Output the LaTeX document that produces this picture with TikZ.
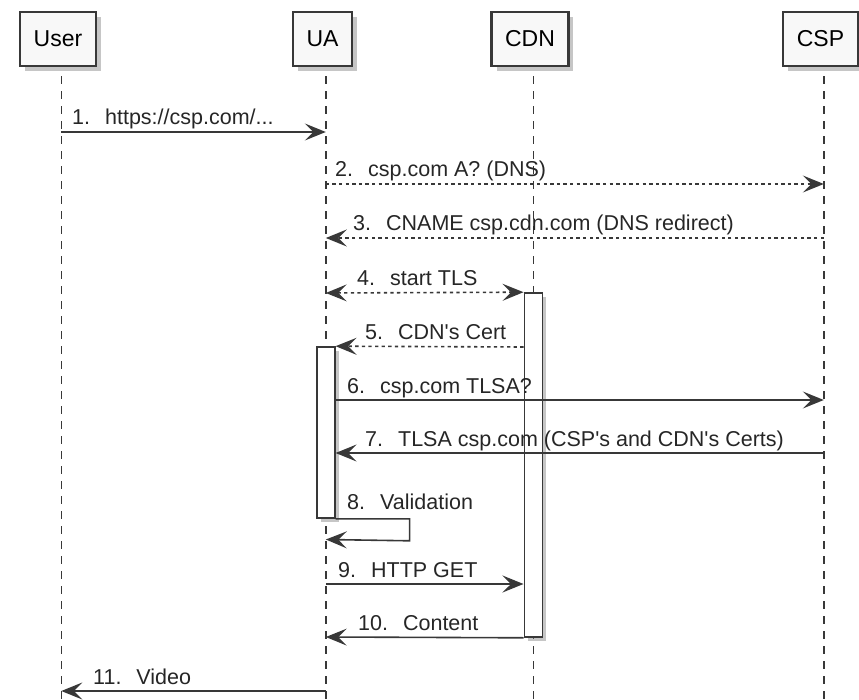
\documentclass[tikz,border=0pt]{standalone}
\usepackage{fontspec}
\newfontfamily\pfont{Liberation Sans}
\usetikzlibrary{arrows.meta,shadows}
\definecolor{ln}{HTML}{383838}
\definecolor{boxfill}{HTML}{F8F8F8}
\newcommand{\gp}{\hspace{15pt}}
\tikzset{
  part/.style={draw=ln, line width=2.2pt, fill=boxfill, minimum height=54pt,
    inner xsep=13.5pt, text=black, font=\pfont\fontsize{23}{27}\selectfont,
    drop shadow={shadow xshift=5pt, shadow yshift=-5pt, fill=black!50, opacity=0.45}},
  act/.style={draw=ln, line width=1.6pt, fill=white, minimum width=18pt, inner sep=0pt,
    drop shadow={shadow xshift=4pt, shadow yshift=-4pt, fill=black!50, opacity=0.45}},
  lifeline/.style={draw=ln, line width=1.4pt, dash pattern=on 8pt off 7pt},
  tipA/.tip={Stealth[length=21pt,width=17pt,inset=8.5pt]},
  msg/.style={draw=ln, line width=1.6pt, -tipA},
  dmsg/.style={msg, dash pattern=on 3.3pt off 3.3pt},
  lbl/.style={anchor=base west, inner sep=0pt, text=black!85, font=\pfont\fontsize{21.5}{25}\selectfont}
}
\begin{document}
\begin{tikzpicture}[x=1pt,y=-1pt]
\useasboundingbox (0,0) rectangle (859,700);
% participants
\node[part] (User) at (58,39) {User};
\node[part] (UA) at (322.5,39) {UA};
\node[part] (CDN) at (530,39) {CDN};
\node[part] (CSP) at (820.5,39) {CSP};
% lifelines
\path ([xshift=3.3pt]User.south) ++(0,9) coordinate (Ut);
\path ([xshift=3.3pt]UA.south) ++(0,9) coordinate (At);
\path ([xshift=3.3pt]CDN.south) ++(0,9) coordinate (Ct);
\path ([xshift=3.3pt]CSP.south) ++(0,9) coordinate (St);
\coordinate (Ub) at (Ut |- 0,705);
\coordinate (Ab) at (At |- 0,705);
\coordinate (Cb) at (Ct |- 0,705);
\coordinate (Sb) at (St |- 0,705);
\draw[lifeline] (Ut) -- (Ub);
\draw[lifeline] (At) -- (Ab);
\draw[lifeline] (Ct) -- (Cb);
\draw[lifeline] (St) -- (Sb);
% activations
\node[act, minimum height=344pt] (aC) at (Ct |- 0,465) {};
\node[act, minimum height=171pt] (aA) at (At |- 0,432.5) {};
% messages
\draw[msg] (Ut |- 0,132) -- (At |- 0,132);
\node[lbl] (l1) at (72,125) {1.\gp https://csp.com/...};
\draw[dmsg] (At |- 0,184) -- (St |- 0,184);
\node[lbl] (l2) at (335,177) {2.\gp csp.com A? (DNS)};
\draw[dmsg] (St |- 0,238) -- (At |- 0,238);
\node[lbl] (l3) at (353,231) {3.\gp CNAME csp.cdn.com (DNS redirect)};
\draw[dmsg, tipA-tipA] (At |- 0,293) -- (aC.north west);
\node[lbl] (l4) at (357,286) {4.\gp start TLS};
\draw[dmsg] (aC.west |- 0,347) -- (aA.north east);
\node[lbl] (l5) at (365,340) {5.\gp CDN's Cert};
\draw[msg] (aA.east |- 0,400) -- (St |- 0,400);
\node[lbl] (l6) at (347,393) {6.\gp csp.com TLSA?};
\draw[msg] (St |- 0,453) -- (aA.east |- 0,453);
\node[lbl] (l7) at (365,446) {7.\gp TLSA csp.com (CSP's and CDN's Certs)};
\draw[msg] (aA.south east) -- ++(74,0) -- ++(0,22) -- (At |- 0,539.5);
\node[lbl] (l8) at (347,509) {8.\gp Validation};
\draw[msg] (At |- 0,584) -- (aC.west |- 0,584);
\node[lbl] (l9) at (338,577) {9.\gp HTTP GET};
\draw[msg] (aC.south west) -- (At |- 0,637);
\node[lbl] (l10) at (358,630) {10.\gp Content};
\draw[msg] (At |- 0,691) -- (Ut |- 0,691);
\node[lbl] (l11) at (93,684) {11.\gp Video};
\end{tikzpicture}
\end{document}
